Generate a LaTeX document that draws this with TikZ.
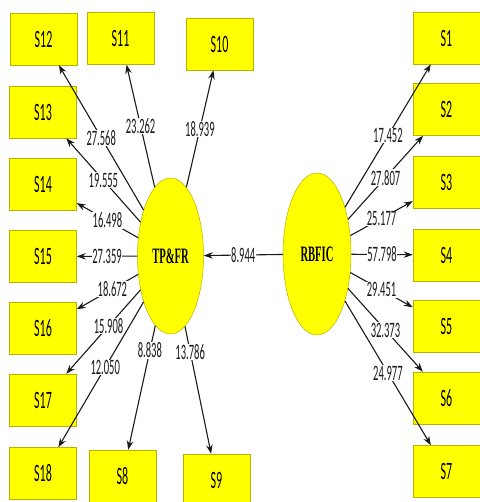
\documentclass[tikz,border=0pt]{standalone}
\usepackage{fontspec}
\usepackage{graphicx}
\usetikzlibrary{arrows.meta,shapes.geometric}
\newfontfamily\lblfont{Carlito}
\newfontfamily\latfont{Liberation Serif}
\definecolor{ink}{HTML}{1A1A1A}
\definecolor{box}{HTML}{FFFF00}
\definecolor{edge}{HTML}{B5B200}
\newcommand{\narrow}[1]{\scalebox{0.48}[1]{#1}}

\begin{document}
\begin{tikzpicture}[
  x=1pt, y=-1pt, >={Stealth[length=9pt,width=6.5pt]}, line width=1.1pt,
  ind/.style={draw=edge, line width=0.5pt, fill=box, minimum width=67pt, minimum height=52pt,
    inner sep=0pt, font=\lblfont\fontsize{25}{25}\selectfont},
  lat/.style={ellipse, draw=edge, line width=0.5pt, fill=box, inner sep=0pt,
    font=\latfont\bfseries\fontsize{22}{22}\selectfont},
  val/.style={fill=white, inner sep=0.5pt, text=ink, font=\lblfont\fontsize{22}{22}\selectfont},
  arr/.style={->, draw=ink}]
\useasboundingbox (0,0) rectangle (479,502);

% latent variables
\node[lat, minimum width=66pt, minimum height=156pt] (tpfr)  at (170.5,256) {\narrow{TP\&FR}};
\node[lat, minimum width=68pt, minimum height=162pt] (rbfic) at (317,254)   {\narrow{RBFIC}};

% indicators of TP&FR
\node[ind] (s12) at (43.5,39)   {\narrow{S12}};
\node[ind] (s11) at (120.5,38.5) {\narrow{S11}};
\node[ind] (s10) at (219.5,44)  {\narrow{S10}};
\node[ind] (s13) at (43,112)    {\narrow{S13}};
\node[ind] (s14) at (43,184)    {\narrow{S14}};
\node[ind] (s15) at (43,256.5)  {\narrow{S15}};
\node[ind] (s16) at (43,328.5)  {\narrow{S16}};
\node[ind] (s17) at (43,400)    {\narrow{S17}};
\node[ind] (s18) at (43,473.5)  {\narrow{S18}};
\node[ind] (s8)  at (122.5,476) {\narrow{S8}};
\node[ind] (s9)  at (216.5,480) {\narrow{S9}};

% indicators of RBFIC
\node[ind] (s1) at (446.5,38)   {\narrow{S1}};
\node[ind] (s2) at (446.5,109.5) {\narrow{S2}};
\node[ind] (s3) at (446.5,182.5) {\narrow{S3}};
\node[ind] (s4) at (446.5,255)  {\narrow{S4}};
\node[ind] (s5) at (446.5,326)  {\narrow{S5}};
\node[ind] (s6) at (446.5,398)  {\narrow{S6}};
\node[ind] (s7) at (446.5,471.5) {\narrow{S7}};

% structural path
\draw[arr] (rbfic) -- node[val] {\narrow{8.944}} (tpfr);

% outer loadings TP&FR
\draw[arr] (tpfr) -- node[val] {\narrow{27.568}} (s12);
\draw[arr] (tpfr) -- node[val] {\narrow{23.262}} (s11);
\draw[arr] (tpfr) -- node[val] {\narrow{18.939}} (s10);
\draw[arr] (tpfr) -- node[val] {\narrow{19.555}} (s13);
\draw[arr] (tpfr) -- node[val] {\narrow{16.498}} (s14);
\draw[arr] (tpfr) -- node[val] {\narrow{27.359}} (s15);
\draw[arr] (tpfr) -- node[val, pos=0.42] {\narrow{18.672}} (s16);
\draw[arr] (tpfr) -- node[val, pos=0.43] {\narrow{15.908}} (s17);
\draw[arr] (tpfr) -- node[val, pos=0.45] {\narrow{12.050}} (s18);
\draw[arr] (tpfr) -- node[val, pos=0.2] {\narrow{8.838}} (s8);
\draw[arr] (tpfr) -- node[val, pos=0.2] {\narrow{13.786}} (s9);

% outer loadings RBFIC
\draw[arr] (rbfic) -- node[val] {\narrow{17.452}} (s1);
\draw[arr] (rbfic) -- node[val] {\narrow{27.807}} (s2);
\draw[arr] (rbfic) -- node[val] {\narrow{25.177}} (s3);
\draw[arr] (rbfic) -- node[val] {\narrow{57.798}} (s4);
\draw[arr] (rbfic) -- node[val] {\narrow{29.451}} (s5);
\draw[arr] (rbfic) -- node[val] {\narrow{32.373}} (s6);
\draw[arr] (rbfic) -- node[val] {\narrow{24.977}} (s7);
\end{tikzpicture}
\end{document}
